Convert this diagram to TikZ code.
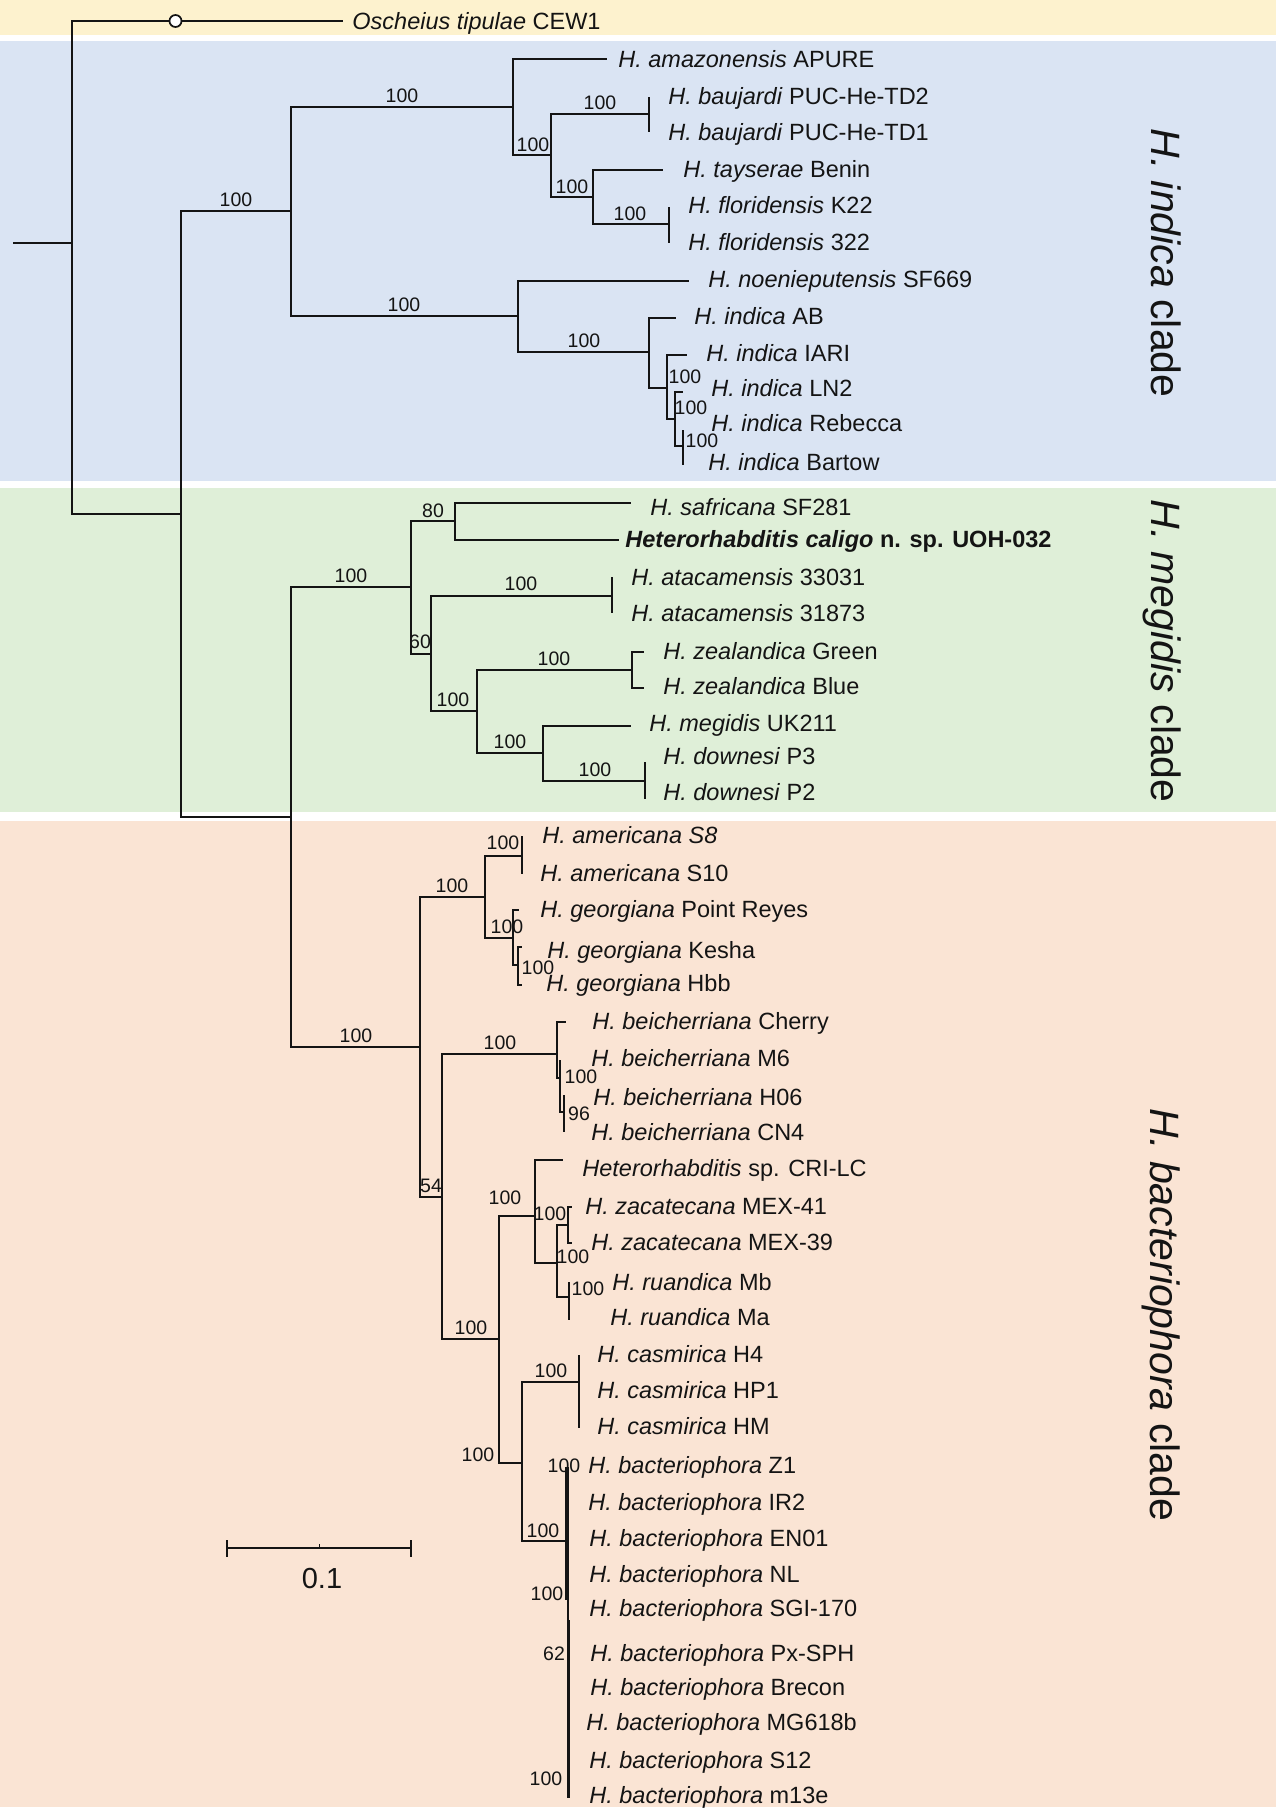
\documentclass[tikz,border=0pt]{standalone}
\usepackage{fontspec}
\setmainfont{Liberation Sans}
\definecolor{bgyel}{RGB}{253,242,206}
\definecolor{bgblu}{RGB}{218,228,243}
\definecolor{bggrn}{RGB}{223,239,216}
\definecolor{bgora}{RGB}{250,228,212}
\definecolor{treeline}{RGB}{20,20,20}
\tikzset{
  br/.style={line width=0.92pt, draw=treeline},
  thinbr/.style={line width=0.6pt, draw=treeline},
  tiplab/.style={anchor=base west, yshift=-4.2pt, inner sep=0pt, text=treeline, font=\fontsize{11.75}{14}\selectfont},
  bs/.style={anchor=center, inner sep=0pt, text=treeline, font=\fontsize{9.75}{12}\selectfont},
  cladelab/.style={rotate=-90, anchor=base, inner sep=0pt, text=treeline, font=\fontsize{20.5}{24}\selectfont},
}
\begin{document}
\begin{tikzpicture}[x=0.5pt,y=-0.5pt]
\useasboundingbox (0,0) rectangle (1280,1810);
\fill[white] (0,0) rectangle (1280,1810);
% backgrounds
\fill[bgyel] (0,0) rectangle (1276,35);
\fill[bgblu] (0,41) rectangle (1276,481);
\fill[bggrn] (0,488) rectangle (1276,812);
\fill[bgora] (0,821) rectangle (1276,1807);

% coordinates
\coordinate (root) at (13,243);
\coordinate (R0) at (72,243);
\coordinate (Osc) at (343,21);
\coordinate (N1) at (181,514);
\coordinate (NI) at (291,211);
\coordinate (NI1) at (513,107);
\coordinate (tAma) at (607,59);
\coordinate (NI2) at (551,155);
\coordinate (NI3) at (649,114);
\coordinate (tBau2) at (649,97);
\coordinate (tBau1) at (649,132);
\coordinate (NI4) at (593,197);
\coordinate (tTay) at (663,170);
\coordinate (NI5) at (669,224);
\coordinate (tFlo1) at (669,207);
\coordinate (tFlo2) at (669,243);
\coordinate (NI6) at (518,316);
\coordinate (tNoe) at (689,281);
\coordinate (NI7) at (649,352);
\coordinate (tIAB) at (676,318);
\coordinate (NI8) at (667,388);
\coordinate (tIAR) at (687,355);
\coordinate (NI9) at (675,419);
\coordinate (tLN2) at (683,392);
\coordinate (NI10) at (683,446);
\coordinate (tReb) at (683,430);
\coordinate (tBar) at (683,465);
\coordinate (NMB) at (291,817);
\coordinate (NM) at (411,587);
\coordinate (NM1) at (455,521);
\coordinate (tSaf) at (631,503);
\coordinate (tCal) at (619,540);
\coordinate (NM2) at (431,654);
\coordinate (NM3) at (612,596);
\coordinate (tAta1) at (612,577);
\coordinate (tAta2) at (612,613);
\coordinate (NM4) at (477,711);
\coordinate (NM5) at (632,670);
\coordinate (tZea1) at (644,652);
\coordinate (tZea2) at (644,688);
\coordinate (NM6) at (543,753);
\coordinate (tMeg) at (631,726);
\coordinate (NM7) at (645,781);
\coordinate (tDow1) at (645,762);
\coordinate (tDow2) at (645,799);
\coordinate (NB) at (420,1047);
\coordinate (NB1) at (485,897);
\coordinate (NB2) at (522,856);
\coordinate (tAm1) at (522,836);
\coordinate (tAm2) at (522,874);
\coordinate (NB3) at (513,938);
\coordinate (tGeoP) at (519,910);
\coordinate (NB4) at (518,965);
\coordinate (tGeoK) at (522,947);
\coordinate (tGeoH) at (522,985);
\coordinate (NB5) at (442,1197);
\coordinate (NB6) at (557,1054);
\coordinate (tBeiC) at (566,1022);
\coordinate (NB7) at (560,1078);
\coordinate (tBeiM) at (560,1060);
\coordinate (NB8) at (564,1112);
\coordinate (tBeiH) at (564,1095);
\coordinate (tBeiN) at (564,1132);
\coordinate (NB9) at (499,1339);
\coordinate (NB10) at (535,1216);
\coordinate (tCRI) at (563,1160);
\coordinate (NB11) at (557,1263);
\coordinate (NB12) at (568,1225);
\coordinate (tZac1) at (572,1207);
\coordinate (tZac2) at (572,1243);
\coordinate (NB13) at (569,1297);
\coordinate (tRuaB) at (569,1282);
\coordinate (tRuaA) at (569,1320);
\coordinate (NB14) at (522,1463);
\coordinate (NB15) at (579,1382);
\coordinate (tCas1) at (579,1355);
\coordinate (tCas2) at (579,1390);
\coordinate (tCas3) at (579,1428);
\coordinate (NB16) at (566,1541);
\coordinate (tBacT) at (566,1467);
\coordinate (tBacB) at (566,1600);
\coordinate (bMa) at (568,1467);
\coordinate (bMb) at (568,1798);
\coordinate (bI1a) at (566.5,1478);
\coordinate (bI1b) at (566.5,1500);
\coordinate (bI2a) at (569.5,1620);
\coordinate (bI2b) at (569.5,1798);

% branches
\draw[br] (root) -- (R0);
\draw[br] (R0) |- (Osc);
\draw[br] (R0) |- (N1);
\draw[br] (N1) |- (NI);
\draw[br] (N1) |- (NMB);
\draw[br] (NI) |- (NI1);
\draw[br] (NI) |- (NI6);
\draw[br] (NI1) |- (tAma);
\draw[br] (NI1) |- (NI2);
\draw[br] (NI2) |- (NI3);
\draw[br] (NI2) |- (NI4);
\draw[br] (NI3) |- (tBau2);
\draw[br] (NI3) |- (tBau1);
\draw[br] (NI4) |- (tTay);
\draw[br] (NI4) |- (NI5);
\draw[br] (NI5) |- (tFlo1);
\draw[br] (NI5) |- (tFlo2);
\draw[br] (NI6) |- (tNoe);
\draw[br] (NI6) |- (NI7);
\draw[br] (NI7) |- (tIAB);
\draw[br] (NI7) |- (NI8);
\draw[br] (NI8) |- (tIAR);
\draw[br] (NI8) |- (NI9);
\draw[br] (NI9) |- (tLN2);
\draw[br] (NI9) |- (NI10);
\draw[br] (NI10) |- (tReb);
\draw[br] (NI10) |- (tBar);
\draw[br] (NMB) |- (NM);
\draw[br] (NMB) |- (NB);
\draw[br] (NM) |- (NM1);
\draw[br] (NM) |- (NM2);
\draw[br] (NM1) |- (tSaf);
\draw[br] (NM1) |- (tCal);
\draw[br] (NM2) |- (NM3);
\draw[br] (NM2) |- (NM4);
\draw[br] (NM3) |- (tAta1);
\draw[br] (NM3) |- (tAta2);
\draw[br] (NM4) |- (NM5);
\draw[br] (NM4) |- (NM6);
\draw[br] (NM5) |- (tZea1);
\draw[br] (NM5) |- (tZea2);
\draw[br] (NM6) |- (tMeg);
\draw[br] (NM6) |- (NM7);
\draw[br] (NM7) |- (tDow1);
\draw[br] (NM7) |- (tDow2);
\draw[br] (NB) |- (NB1);
\draw[br] (NB) |- (NB5);
\draw[br] (NB1) |- (NB2);
\draw[br] (NB1) |- (NB3);
\draw[br] (NB2) |- (tAm1);
\draw[br] (NB2) |- (tAm2);
\draw[br] (NB3) |- (tGeoP);
\draw[br] (NB3) |- (NB4);
\draw[br] (NB4) |- (tGeoK);
\draw[br] (NB4) |- (tGeoH);
\draw[br] (NB5) |- (NB6);
\draw[br] (NB5) |- (NB9);
\draw[br] (NB6) |- (tBeiC);
\draw[br] (NB6) |- (NB7);
\draw[br] (NB7) |- (tBeiM);
\draw[br] (NB7) |- (NB8);
\draw[br] (NB8) |- (tBeiH);
\draw[br] (NB8) |- (tBeiN);
\draw[br] (NB9) |- (NB10);
\draw[br] (NB9) |- (NB14);
\draw[br] (NB10) |- (tCRI);
\draw[br] (NB10) |- (NB11);
\draw[br] (NB11) |- (NB12);
\draw[br] (NB11) |- (NB13);
\draw[br] (NB12) |- (tZac1);
\draw[br] (NB12) |- (tZac2);
\draw[br] (NB13) |- (tRuaB);
\draw[br] (NB13) |- (tRuaA);
\draw[br] (NB14) |- (NB15);
\draw[br] (NB14) |- (NB16);
\draw[br] (NB15) |- (tCas1);
\draw[br] (NB15) |- (tCas2);
\draw[br] (NB15) |- (tCas3);
\draw[thinbr] (NB16) |- (tBacT);
\draw[thinbr] (NB16) |- (tBacB);
\draw[thinbr] (bMa) -- (bMb);
\draw[thinbr] (bI1a) -- (bI1b);
\draw[thinbr] (bI2a) -- (bI2b);

% outgroup marker
\node[circle, draw=treeline, fill=white, line width=0.85pt, minimum size=6pt, inner sep=0pt] (oscmark) at (175.5,21) {};

% tip labels
\node[tiplab] (l01) at (352,21) {\textit{Oscheius tipulae} CEW1};
\node[tiplab] (l02) at (618,59) {\textit{H. amazonensis} APURE};
\node[tiplab] (l03) at (668,96) {\textit{H. baujardi} PUC-He-TD2};
\node[tiplab] (l04) at (668,132) {\textit{H. baujardi} PUC-He-TD1};
\node[tiplab] (l05) at (683,169) {\textit{H. tayserae} Benin};
\node[tiplab] (l06) at (688,205) {\textit{H. floridensis} K22};
\node[tiplab] (l07) at (688,242) {\textit{H. floridensis} 322};
\node[tiplab] (l08) at (708,279) {\textit{H. noenieputensis} SF669};
\node[tiplab] (l09) at (694,316) {\textit{H. indica} AB};
\node[tiplab] (l10) at (706,353) {\textit{H. indica} IARI};
\node[tiplab] (l11) at (711,388) {\textit{H. indica} LN2};
\node[tiplab] (l12) at (711,423) {\textit{H. indica} Rebecca};
\node[tiplab] (l13) at (708,462) {\textit{H. indica} Bartow};
\node[tiplab] (l14) at (650,507) {\textit{H. safricana} SF281};
\node[tiplab] (l15) at (625,539) {\bfseries\textit{Heterorhabditis caligo} n. sp. UOH-032};
\node[tiplab] (l16) at (631,577) {\textit{H. atacamensis} 33031};
\node[tiplab] (l17) at (631,613) {\textit{H. atacamensis} 31873};
\node[tiplab] (l18) at (663,651) {\textit{H. zealandica} Green};
\node[tiplab] (l19) at (663,686) {\textit{H. zealandica} Blue};
\node[tiplab] (l20) at (649,723) {\textit{H. megidis} UK211};
\node[tiplab] (l21) at (663,756) {\textit{H. downesi} P3};
\node[tiplab] (l22) at (663,792) {\textit{H. downesi} P2};
\node[tiplab] (l23) at (542,835) {\textit{H. americana S8}};
\node[tiplab] (l24) at (540,873) {\textit{H. americana} S10};
\node[tiplab] (l25) at (540,909) {\textit{H. georgiana} Point Reyes};
\node[tiplab] (l26) at (547,950) {\textit{H. georgiana} Kesha};
\node[tiplab] (l27) at (546,983) {\textit{H. georgiana} Hbb};
\node[tiplab] (l28) at (592,1021) {\textit{H. beicherriana} Cherry};
\node[tiplab] (l29) at (591,1058) {\textit{H. beicherriana} M6};
\node[tiplab] (l30) at (593,1097) {\textit{H. beicherriana} H06};
\node[tiplab] (l31) at (591,1132) {\textit{H. beicherriana} CN4};
\node[tiplab] (l32) at (582,1168) {\textit{Heterorhabditis} sp. CRI-LC};
\node[tiplab] (l33) at (585,1206) {\textit{H. zacatecana} MEX-41};
\node[tiplab] (l34) at (591,1242) {\textit{H. zacatecana} MEX-39};
\node[tiplab] (l35) at (612,1282) {\textit{H. ruandica} Mb};
\node[tiplab] (l36) at (610,1317) {\textit{H. ruandica} Ma};
\node[tiplab] (l37) at (597,1354) {\textit{H. casmirica} H4};
\node[tiplab] (l38) at (597,1390) {\textit{H. casmirica} HP1};
\node[tiplab] (l39) at (597,1426) {\textit{H. casmirica} HM};
\node[tiplab] (l40) at (588,1465) {\textit{H. bacteriophora} Z1};
\node[tiplab] (l41) at (588,1502) {\textit{H. bacteriophora} IR2};
\node[tiplab] (l42) at (589,1538) {\textit{H. bacteriophora} EN01};
\node[tiplab] (l43) at (589,1574) {\textit{H. bacteriophora} NL};
\node[tiplab] (l44) at (589,1608) {\textit{H. bacteriophora} SGI-170};
\node[tiplab] (l45) at (590,1653) {\textit{H. bacteriophora} Px-SPH};
\node[tiplab] (l46) at (590,1687) {\textit{H. bacteriophora} Brecon};
\node[tiplab] (l47) at (586,1722) {\textit{H. bacteriophora} MG618b};
\node[tiplab] (l48) at (589,1760) {\textit{H. bacteriophora} S12};
\node[tiplab] (l49) at (589,1795) {\textit{H. bacteriophora} m13e};

% bootstrap values
\node[bs] (b01) at (236,200) {100};
\node[bs] (b02) at (402,96) {100};
\node[bs] (b03) at (533,145) {100};
\node[bs] (b04) at (600,103) {100};
\node[bs] (b05) at (572,187) {100};
\node[bs] (b06) at (630,214) {100};
\node[bs] (b07) at (404,305) {100};
\node[bs] (b08) at (584,341) {100};
\node[bs] (b09) at (685,377) {100};
\node[bs] (b10) at (691,408) {100};
\node[bs] (b11) at (702,441) {100};
\node[bs] (b12) at (433,511) {80};
\node[bs] (b13) at (351,576) {100};
\node[bs] (b14) at (521,584) {100};
\node[bs] (b15) at (420,642) {60};
\node[bs] (b16) at (554,659) {100};
\node[bs] (b17) at (453,700) {100};
\node[bs] (b18) at (510,742) {100};
\node[bs] (b19) at (595,770) {100};
\node[bs] (b20) at (503,843) {100};
\node[bs] (b21) at (452,886) {100};
\node[bs] (b22) at (507,927) {100};
\node[bs] (b23) at (538,968) {100};
\node[bs] (b24) at (356,1036) {100};
\node[bs] (b25) at (500,1043) {100};
\node[bs] (b26) at (581,1077) {100};
\node[bs] (b27) at (579,1114) {96};
\node[bs] (b28) at (431,1186) {54};
\node[bs] (b29) at (505,1198) {100};
\node[bs] (b30) at (550,1214) {100};
\node[bs] (b31) at (573,1257) {100};
\node[bs] (b32) at (588,1289) {100};
\node[bs] (b33) at (471,1328) {100};
\node[bs] (b34) at (551,1371) {100};
\node[bs] (b35) at (478,1455) {100};
\node[bs] (b36) at (564,1466) {100};
\node[bs] (b37) at (543,1531) {100};
\node[bs] (b38) at (547,1594) {100};
\node[bs] (b39) at (554,1654) {62};
\node[bs] (b40) at (546,1779) {100};

% clade labels
\node[cladelab] (c1) at (1151,263) {\textit{H. indica} clade};
\node[cladelab] (c2) at (1151,651) {\textit{H. megidis} clade};
\node[cladelab] (c3) at (1150,1315) {\textit{H. bacteriophora} clade};

% scale bar
\coordinate (sbL) at (227,1548);
\coordinate (sbR) at (411,1548);
\coordinate (sbLt) at (227,1540);
\coordinate (sbLb) at (227,1557);
\coordinate (sbRt) at (411,1540);
\coordinate (sbRb) at (411,1557);
\coordinate (sbM) at (319,1548);
\coordinate (sbMt) at (319,1544);
\draw[br] (sbL) -- (sbR);
\draw[br] (sbLt) -- (sbLb);
\draw[br] (sbRt) -- (sbRb);
\draw[br, line width=0.5pt] (sbM) -- (sbMt);
\node[anchor=center, inner sep=0pt, text=treeline, font=\fontsize{14.5}{17}\selectfont] (sblab) at (322,1578) {0.1};
\end{tikzpicture}
\end{document}
